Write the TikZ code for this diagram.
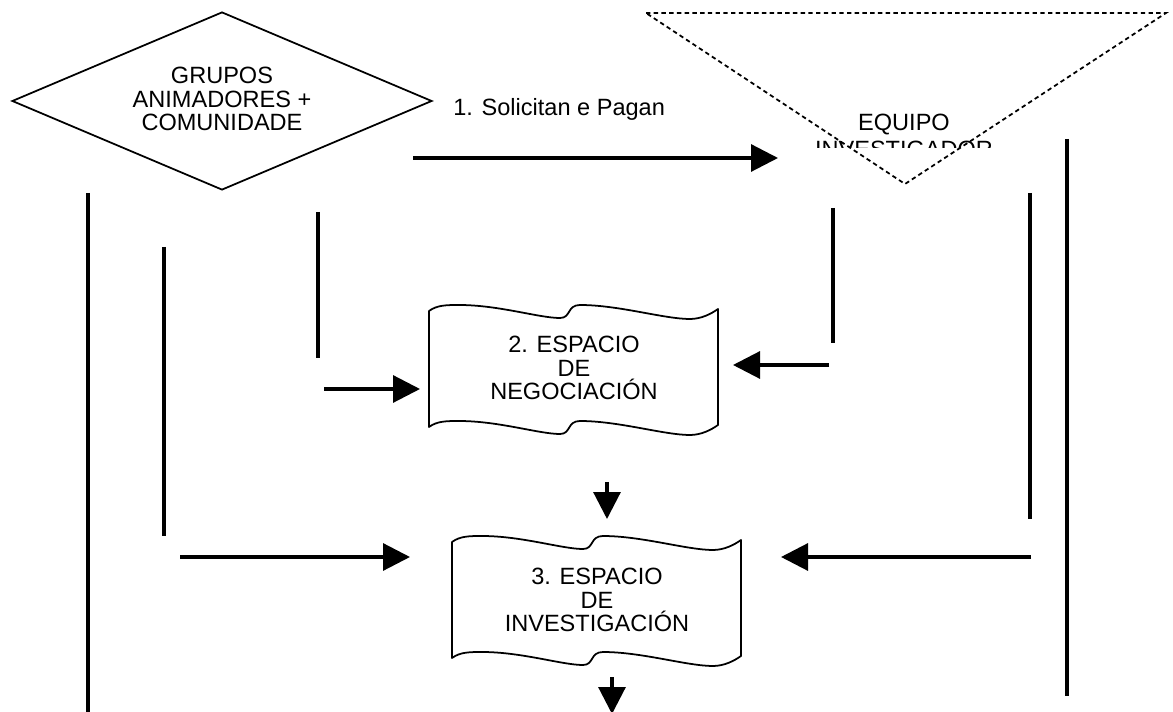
\documentclass[tikz,border=0pt]{standalone}
\usepackage{fontspec}
\setmainfont{Liberation Sans}
\usetikzlibrary{arrows.meta, shapes.geometric}

\begin{document}
\begin{tikzpicture}[x=0.02cm, y=-0.02cm,
	txt/.style={font=\fontsize{13.4pt}{13.6pt}\selectfont, align=center, inner sep=0pt},
	barra/.style={line width=1.8pt},
	flecha/.style={barra, -{Triangle[length=0.54cm, width=0.54cm]}},
	punteado/.style={line width=1pt, dash pattern=on 2.5pt off 1.9pt},
	cinta/.pic={
		\draw[line width=1pt, line join=round] (0,0) .. controls (8,-6) and (18,-6) .. (30,-6)
			.. controls (70,-6) and (110,7) .. (131,7)
			.. controls (142,7) and (138,-6) .. (151,-6)
			.. controls (190,-6) and (235,8) .. (261,8)
			.. controls (272,8) and (282,3) .. (289,-2)
			-- (289,114)
			.. controls (282,119) and (272,124) .. (261,124)
			.. controls (235,124) and (190,110) .. (151,110)
			.. controls (138,110) and (142,123) .. (131,123)
			.. controls (110,123) and (70,110) .. (30,110)
			.. controls (18,110) and (8,110) .. (0,116) -- cycle;
	}]
	\useasboundingbox (0,0) rectangle (1173,712);

	\node[diamond, draw=black, line width=1pt, aspect=2.36, minimum width=8.4cm, minimum height=3.56cm, inner sep=0pt](GR) at (222,101) {};
	\node[txt](GRt) at (222,99) {GRUPOS\\ANIMADORES +\\COMUNIDADE};

	\draw[punteado] (646,13) -- (1166,13) -- (905,184) -- cycle;
	\node[txt, anchor=base](EQ) at (904,131) {EQUIPO};
	\begin{scope}
		\clip (600,0) rectangle (1173,148);
		\node[txt, anchor=base](EQb) at (904,158) {INVESTIGADOR};
	\end{scope}

	\pic at (429,311) {cinta};
	\node[txt](NEG) at (574,368) {2. ESPACIO\\DE\\NEGOCIACIÓN};
	\pic at (452,542) {cinta};
	\node[txt](INV) at (597,600) {3. ESPACIO\\DE\\INVESTIGACIÓN};

	\node[txt, anchor=base west](SOL) at (453,116) {1. Solicitan e Pagan};

	\coordinate (A1) at (413,158);  \coordinate (A2) at (778,158);
	\coordinate (L1) at (88,193);   \coordinate (L1b) at (88,712);
	\coordinate (L2) at (164,247);  \coordinate (L2b) at (164,536);
	\coordinate (L3) at (318,212);  \coordinate (L3b) at (318,358);
	\coordinate (B1) at (324,389);  \coordinate (B2) at (420,389);
	\coordinate (C1) at (180,557);  \coordinate (C2) at (410,557);
	\coordinate (R1) at (833,208);  \coordinate (R1b) at (833,343);
	\coordinate (R2) at (1030,193); \coordinate (R2b) at (1030,519);
	\coordinate (R3) at (1067,139); \coordinate (R3b) at (1067,696);
	\coordinate (D1) at (829,365);  \coordinate (D2) at (733,365);
	\coordinate (E1) at (1031,557); \coordinate (E2) at (781,557);
	\coordinate (V1) at (607,482);  \coordinate (V2) at (607,519);
	\coordinate (W1) at (612,677);  \coordinate (W2) at (612,714);

	\draw[flecha](A1) -- (A2);

	\draw[barra](L1) -- (L1b);
	\draw[barra](L2) -- (L2b);
	\draw[barra](L3) -- (L3b);
	\draw[flecha](B1) -- (B2);
	\draw[flecha](C1) -- (C2);

	\draw[barra](R1) -- (R1b);
	\draw[barra](R2) -- (R2b);
	\draw[barra](R3) -- (R3b);
	\draw[flecha](D1) -- (D2);
	\draw[flecha](E1) -- (E2);

	\draw[flecha](V1) -- (V2);
	\draw[flecha](W1) -- (W2);
\end{tikzpicture}
\end{document}
